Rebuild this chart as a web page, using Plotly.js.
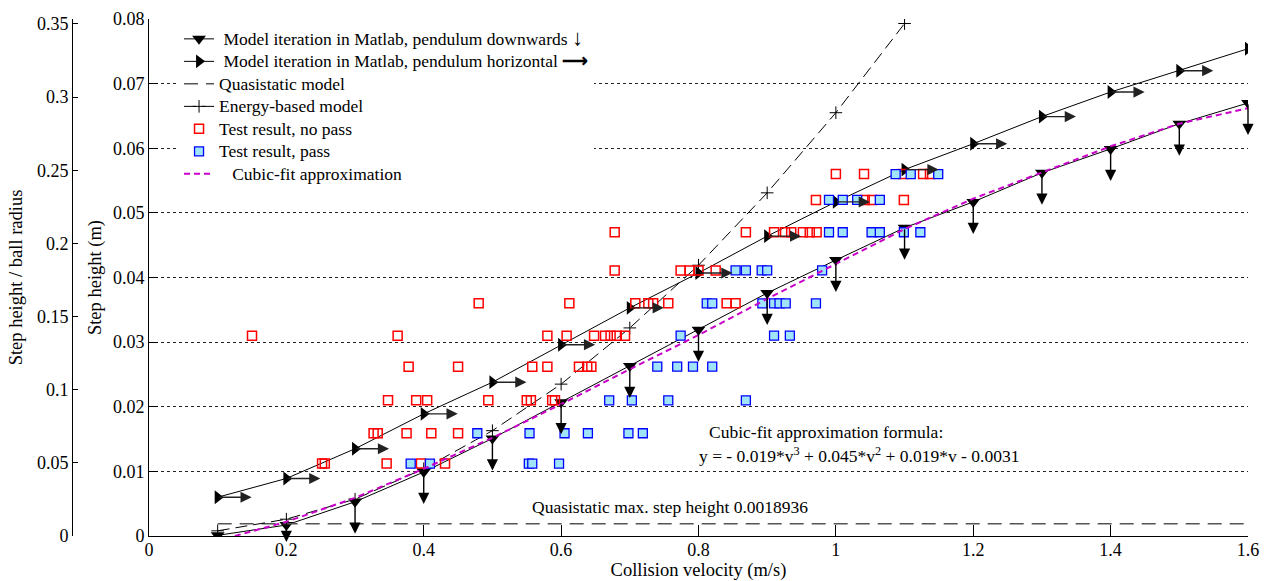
<!DOCTYPE html>
<html>
<head>
<meta charset="utf-8">
<script src="https://cdn.plot.ly/plotly-3.0.1.min.js"></script>
<style>html,body{margin:0;padding:0;background:#fff;}#chart{width:1273px;height:581px;}</style>
</head>
<body>
<div id="chart"></div>
<script>
// ---- data ----
var velocity = [0.1, 0.2, 0.3, 0.4, 0.5, 0.6, 0.7, 0.8, 0.9, 1.0, 1.1, 1.2, 1.3, 1.4, 1.5, 1.6];
var downY = [0.0001, 0.0017, 0.0053, 0.0099, 0.0151, 0.0207, 0.0263, 0.0319, 0.0376, 0.0427, 0.0477, 0.0517, 0.0562, 0.0599, 0.0638, 0.0670];
var horizY = [0.0060, 0.0089, 0.0135, 0.0189, 0.0238, 0.0296, 0.0353, 0.0407, 0.0464, 0.0517, 0.0567, 0.0607, 0.0649, 0.0687, 0.0720, 0.0754];

var energyX = [0.1, 0.2, 0.3, 0.4, 0.5, 0.6, 0.7, 0.8, 0.9, 1.0, 1.1];
var energyY = [0.0008, 0.0026, 0.0057, 0.0104, 0.0163, 0.0235, 0.0322, 0.0419, 0.0531, 0.0655, 0.0793];

var quasiX = [0.1, 1.6];
var quasiY = [0.0018936, 0.0018936];

var cubicX = [0.125, 0.2, 0.3, 0.4, 0.5, 0.6, 0.7, 0.8, 0.9, 1.0, 1.1, 1.2, 1.3, 1.4, 1.5, 1.6];
var cubicY = [0.0, 0.0022, 0.0059, 0.0104, 0.0152, 0.0204, 0.0258, 0.0311, 0.0367, 0.0421, 0.0475, 0.0522, 0.0563, 0.0603, 0.0638, 0.0662];

// test results: step-height levels and velocities on each level
var levels = [0.0112, 0.0159, 0.0210, 0.0262, 0.0310, 0.0360, 0.0411, 0.0470, 0.0520, 0.0560];
var noPassByLevel = [
  [0.252, 0.256, 0.346, 0.396, 0.431],
  [0.327, 0.333, 0.375, 0.411, 0.450],
  [0.348, 0.389, 0.405, 0.494, 0.550, 0.556, 0.587, 0.591],
  [0.378, 0.450, 0.558, 0.580, 0.626, 0.638, 0.644],
  [0.150, 0.362, 0.580, 0.608, 0.648, 0.664, 0.672, 0.681, 0.693],
  [0.480, 0.612, 0.708, 0.727, 0.734, 0.756, 0.841, 0.854],
  [0.678, 0.774, 0.787, 0.800, 0.825],
  [0.678, 0.869, 0.910, 0.926, 0.935, 0.952, 0.962, 0.972],
  [0.971, 1.042, 1.053, 1.099],
  [1.000, 1.041, 1.098, 1.127, 1.137]
];
var passByLevel = [
  [0.381, 0.409, 0.553, 0.558, 0.597],
  [0.478, 0.554, 0.605, 0.639, 0.698, 0.719],
  [0.670, 0.703, 0.756, 0.869],
  [0.740, 0.769, 0.792, 0.820],
  [0.774, 0.910, 0.933],
  [0.812, 0.820, 0.893, 0.910, 0.918, 0.927, 0.971],
  [0.854, 0.869, 0.892, 0.900, 0.980],
  [0.990, 1.010, 1.052, 1.064, 1.099, 1.123],
  [0.990, 1.010, 1.031, 1.064],
  [1.087, 1.109, 1.149]
];

var xTicks = [0, 0.2, 0.4, 0.6, 0.8, 1, 1.2, 1.4, 1.6];
var xTickText = ['0', '0.2', '0.4', '0.6', '0.8', '1', '1.2', '1.4', '1.6'];
var ratioTicks = [0, 0.05, 0.1, 0.15, 0.2, 0.25, 0.3, 0.35];
var ratioTickText = ['0', '0.05', '0.1', '0.15', '0.2', '0.25', '0.3', '0.35'];
var ballRadius = 0.2264;

var legendNames = [
  ' Model iteration in Matlab, pendulum downwards <span style="font-size:22px"><b>\u2193</b></span>',
  ' Model iteration in Matlab, pendulum horizontal <b>\u27F6</b>',
  'Quasistatic model',
  'Energy-based model',
  'Test result, no pass',
  'Test result, pass',
  '   Cubic-fit approximation'
];

// ---- build ----
function flatten(byLevel) {
  var xs = [], ys = [];
  byLevel.forEach(function (row, i) { row.forEach(function (v) { xs.push(v); ys.push(levels[i]); }); });
  return {x: xs, y: ys};
}
var noPass = flatten(noPassByLevel);
var pass = flatten(passByLevel);
function lg(s) { return '<span style="font-size:17.5px">' + s + '</span>'; }

var FONT = '"Liberation Serif", "Times New Roman", serif';

var traces = [
  {x: velocity, y: downY, mode: 'lines+markers', name: lg(legendNames[0]),
   line: {color: 'black', width: 1}, marker: {symbol: 'triangle-down', size: 12, color: 'black'}},
  {x: velocity, y: horizY, mode: 'lines+markers', name: lg(legendNames[1]),
   line: {color: 'black', width: 1}, marker: {symbol: 'triangle-right', size: 12, color: 'black'}},
  {x: quasiX, y: quasiY, mode: 'lines', name: lg(legendNames[2]),
   line: {color: '#555', width: 1.5, dash: '14px,8px'}},
  {x: energyX, y: energyY, mode: 'lines+markers', name: lg(legendNames[3]),
   line: {color: 'black', width: 1, dash: '12px,6px'}, marker: {symbol: 'cross-thin-open', size: 9, line: {color: 'black', width: 1}}},
  {x: noPass.x, y: noPass.y, mode: 'markers', name: lg(legendNames[4]),
   marker: {symbol: 'square-open', size: 9, color: 'red', line: {width: 1.5}}},
  {x: pass.x, y: pass.y, mode: 'markers', name: lg(legendNames[5]),
   marker: {symbol: 'square', size: 9, color: 'rgb(160,228,250)', line: {color: 'blue', width: 1.3}}},
  {x: cubicX, y: cubicY, mode: 'lines', name: lg(legendNames[6]),
   line: {color: 'rgb(200,0,200)', width: 2, dash: '6px,4px'}},
  // same horizontal-model curve expressed as step height / ball radius (invisible, carries the left axis)
  {x: velocity, y: horizY.map(function (h) { return h / ballRadius; }), yaxis: 'y2', mode: 'lines',
   line: {width: 0, color: 'rgba(0,0,0,0)'}, showlegend: false, hoverinfo: 'skip'}
];

var annotations = [];
velocity.forEach(function (v, i) {
  var yd = downY[i];
  var len = Math.min(32, yd / 0.08 * 517 + 6);
  if (yd > 0.001) {
    annotations.push({x: v, y: yd, xref: 'x', yref: 'y', text: '', showarrow: true,
      ax: 0, ay: -len, yshift: -len, arrowhead: 2, arrowsize: 1.6, arrowwidth: 1.4, arrowcolor: 'black'});
  }
  if (v < 1.6) {
    annotations.push({x: v, y: horizY[i], xref: 'x', yref: 'y', text: '', showarrow: true,
      ax: -34, ay: 0, xshift: 34, arrowhead: 2, arrowsize: 1.6, arrowwidth: 1.4, arrowcolor: '#222'});
  }
});
annotations.push({x: 0.758, y: 0.0045, xref: 'x', yref: 'y', showarrow: false,
  text: 'Quasistatic max. step height 0.0018936', font: {family: FONT, size: 17.5, color: 'black'}});
annotations.push({x: 0.812, y: 0.0161, xref: 'x', yref: 'y', showarrow: false, xanchor: 'left',
  text: 'Cubic-fit approximation formula:', font: {family: FONT, size: 17.5, color: 'black'}});
annotations.push({x: 0.798, y: 0.0126, xref: 'x', yref: 'y', showarrow: false, xanchor: 'left',
  text: 'y = - 0.019*v<sup>3</sup> + 0.045*v<sup>2</sup> + 0.019*v - 0.0031', font: {family: FONT, size: 17.5, color: 'black'}});

var layout = {
  width: 1273, height: 581,
  margin: {l: 60, r: 25, t: 19, b: 45},
  paper_bgcolor: 'white', plot_bgcolor: 'white',
  font: {family: FONT, size: 18, color: 'black'},
  showlegend: true,
  legend: {x: 0.1002, y: 0.993, xanchor: 'left', yanchor: 'top', bgcolor: 'white', borderwidth: 0,
    font: {family: FONT, size: 15, color: 'black'}, tracegroupgap: 0},
  xaxis: {domain: [0.0749, 1], range: [0, 1.6], tickvals: xTicks, ticktext: xTickText,
    ticks: 'inside', ticklen: 11, tickcolor: 'black', showline: true, linecolor: 'black', linewidth: 1,
    showgrid: false, zeroline: false, tickfont: {size: 18}, ticklabelstandoff: -3,
    title: {text: 'Collision velocity (m/s)', font: {size: 18.5}, standoff: 4}},
  yaxis: {range: [0, 0.08], dtick: 0.01, ticks: 'inside', ticklen: 9, tickcolor: 'black',
    showline: true, linecolor: 'black', linewidth: 1, zeroline: false,
    showgrid: true, gridcolor: '#222', griddash: 'dot', gridwidth: 1, tickfont: {size: 18},
    title: {text: 'Step height (m)', font: {size: 18.5}, standoff: 6}},
  yaxis2: {overlaying: 'y', anchor: 'free', position: 0.0101, side: 'left',
    range: [0, 0.08 / ballRadius], tickvals: ratioTicks, ticktext: ratioTickText,
    ticks: 'inside', ticklen: 5, tickcolor: 'black', showline: true, linecolor: 'black', linewidth: 1,
    showgrid: false, zeroline: false, tickfont: {size: 18},
    title: {text: 'Step height / ball radius', font: {size: 18.5}, standoff: 8}},
  annotations: annotations
};

Plotly.newPlot('chart', traces, layout, {displayModeBar: false, staticPlot: true});
</script>
</body>
</html>
